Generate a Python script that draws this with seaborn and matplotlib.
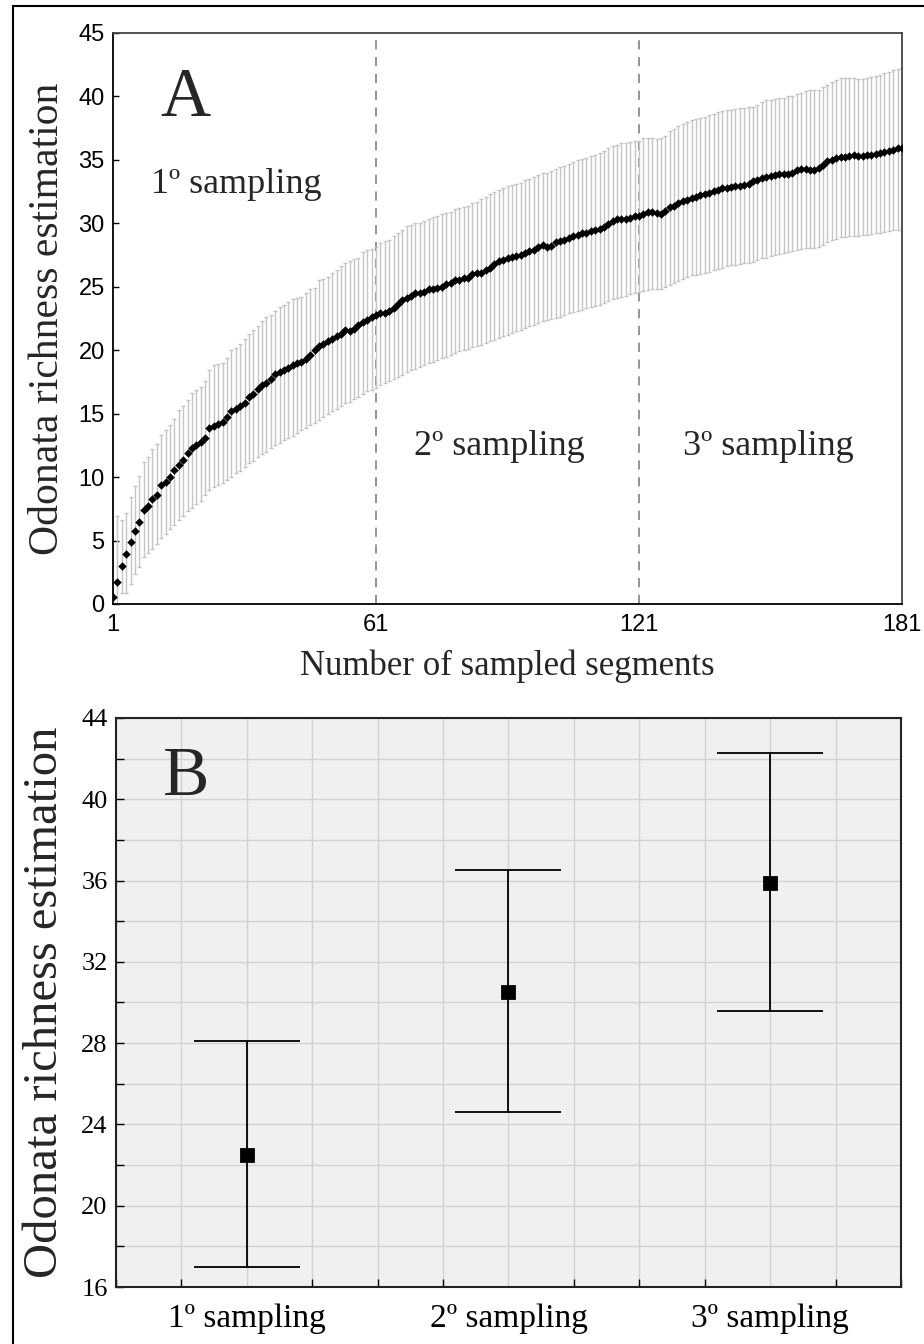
import numpy as np
import pandas as pd
import matplotlib
matplotlib.use("Agg")
import matplotlib.pyplot as plt
from matplotlib.ticker import MultipleLocator, FixedLocator
from matplotlib.patches import Rectangle
import seaborn as sns

# Panel A: accumulation curve, 181 sampled segments
segments = list(range(1, 182))
richness_mean = [
    0.58, 1.75, 3.0, 3.94, 4.86, 5.78, 6.44, 7.41, 7.75, 8.25,
    8.62, 9.36, 9.62, 10.04, 10.57, 10.96, 11.36, 11.88, 12.33, 12.54,
    12.8, 13.07, 13.86, 14.06, 14.2, 14.33, 14.77, 15.17, 15.35, 15.6,
    15.87, 16.3, 16.56, 16.93, 17.24, 17.4, 17.74, 18.1, 18.3, 18.4,
    18.6, 18.8, 19.0, 19.1, 19.3, 19.6, 20.0, 20.3, 20.5, 20.7,
    20.9, 21.1, 21.3, 21.6, 21.5, 21.7, 22.0, 22.2, 22.4, 22.6,
    22.8, 22.95, 22.9, 23.1, 23.35, 23.65, 23.95, 24.15, 24.3, 24.5,
    24.5, 24.6, 24.8, 24.8, 24.9, 25.0, 25.2, 25.3, 25.5, 25.55,
    25.7, 25.7, 26.0, 26.1, 26.05, 26.3, 26.5, 26.8, 27.0, 27.1,
    27.25, 27.35, 27.4, 27.5, 27.65, 27.8, 27.9, 28.1, 28.3, 28.1,
    28.2, 28.5, 28.6, 28.7, 28.85, 29.0, 29.1, 29.2, 29.25, 29.4,
    29.45, 29.55, 29.7, 29.95, 30.15, 30.3, 30.35, 30.35, 30.45, 30.55,
    30.6, 30.75, 30.85, 30.85, 30.8, 30.75, 31.0, 31.3, 31.4, 31.6,
    31.75, 31.85, 32.0, 32.1, 32.2, 32.3, 32.4, 32.55, 32.65, 32.75,
    32.8, 32.85, 32.9, 32.95, 33.05, 33.1, 33.3, 33.4, 33.55, 33.65,
    33.7, 33.8, 33.9, 33.85, 33.9, 34.0, 34.2, 34.3, 34.3, 34.2,
    34.2, 34.35, 34.6, 34.9, 35.0, 35.15, 35.25, 35.25, 35.3, 35.35,
    35.3, 35.3, 35.35, 35.4, 35.45, 35.5, 35.6, 35.7, 35.75, 35.9,
    35.95,
]
richness_upper = [
    0.58, 6.9, 6.6, 7.2, 8.4, 9.3, 10.1, 11.2, 11.6, 12.2,
    12.6, 13.3, 13.7, 14.1, 14.6, 15.3, 15.6, 16.1, 16.6, 16.9,
    17.1, 17.6, 18.4, 18.8, 18.9, 19.0, 19.4, 20.0, 20.2, 20.5,
    20.9, 21.3, 21.6, 21.9, 22.3, 22.6, 22.8, 23.1, 23.4, 23.6,
    23.8, 24.0, 24.1, 24.2, 24.5, 24.8, 24.9, 25.5, 25.6, 25.8,
    26.1, 26.3, 26.6, 26.9, 27.0, 27.2, 27.3, 27.7, 27.9, 28.0,
    28.1, 28.45, 28.6, 28.7, 29.0, 29.2, 29.45, 29.75, 29.9, 30.0,
    30.05, 30.15, 30.3, 30.5, 30.6, 30.7, 30.8, 30.9, 31.1, 31.2,
    31.3, 31.35, 31.6, 31.7, 31.9, 32.05, 32.3, 32.5, 32.65, 32.8,
    32.95, 33.0, 33.1, 33.2, 33.4, 33.5, 33.65, 33.8, 34.0, 34.0,
    34.1, 34.3, 34.45, 34.55, 34.7, 34.8, 34.95, 35.05, 35.15, 35.3,
    35.4, 35.55, 35.7, 35.95, 36.1, 36.2, 36.3, 36.35, 36.4, 36.45,
    36.5, 36.7, 36.7, 36.7, 36.65, 36.7, 36.9, 37.25, 37.45, 37.65,
    37.85, 38.0, 38.1, 38.2, 38.3, 38.4, 38.5, 38.65, 38.75, 38.85,
    38.9, 38.95, 39.0, 39.05, 39.1, 39.2, 39.2, 39.35, 39.55, 39.7,
    39.75, 39.8, 39.9, 39.9, 40.0, 40.05, 40.15, 40.3, 40.4, 40.5,
    40.5, 40.5, 40.7, 40.9, 41.1, 41.3, 41.45, 41.45, 41.45, 41.45,
    41.4, 41.4, 41.45, 41.55, 41.6, 41.7, 41.85, 41.9, 42.05, 42.15,
    42.25,
]
richness_lower = [
    0.58, 0.0, 0.85, 0.85, 1.6, 2.4, 2.9, 3.7, 4.0, 4.3,
    4.7, 5.2, 5.5, 5.9, 6.2, 6.6, 6.9, 7.3, 7.6, 7.9,
    8.15, 8.6, 9.0, 9.25, 9.4, 9.5, 9.8, 10.0, 10.3, 10.5,
    10.8, 11.1, 11.3, 11.6, 11.8, 12.0, 12.3, 12.5, 12.7, 12.9,
    13.1, 13.25, 13.5, 13.7, 13.9, 14.1, 14.3, 14.5, 14.7, 14.95,
    15.2, 15.4, 15.6, 15.8, 15.95, 16.15, 16.35, 16.55, 16.75, 16.9,
    17.05, 17.25, 17.4, 17.55, 17.7, 17.9, 18.05, 18.25, 18.4, 18.55,
    18.7, 18.85, 19.0, 19.1, 19.25, 19.4, 19.5, 19.65, 19.8, 19.9,
    20.0, 20.1, 20.25, 20.3, 20.4, 20.55, 20.7, 20.8, 20.95, 21.1,
    21.2, 21.35, 21.5, 21.6, 21.75, 21.9, 22.0, 22.15, 22.3, 22.35,
    22.45, 22.55, 22.65, 22.8, 22.9, 23.0, 23.1, 23.2, 23.3, 23.4,
    23.5, 23.6, 23.75, 23.9, 24.0, 24.1, 24.2, 24.3, 24.4, 24.5,
    24.55, 24.65, 24.75, 24.8, 24.8, 24.85, 24.95, 25.1, 25.3, 25.45,
    25.6, 25.75, 25.9, 25.95, 26.0, 26.1, 26.2, 26.3, 26.4, 26.5,
    26.6, 26.7, 26.75, 26.8, 26.85, 26.9, 26.95, 27.1, 27.25, 27.3,
    27.4, 27.5, 27.6, 27.65, 27.7, 27.8, 27.9, 28.0, 28.05, 28.05,
    28.05, 28.15, 28.3, 28.5, 28.65, 28.8, 28.9, 28.95, 29.0, 29.0,
    29.0, 29.05, 29.1, 29.15, 29.2, 29.25, 29.3, 29.4, 29.45, 29.5,
    29.6,
]
period_breaks = [61, 121]
xtick_values = [1, 61, 121, 181]

# Panel B: estimate at the end of each sampling period
samplings = ["1º sampling", "2º sampling", "3º sampling"]
period_mean = [22.5, 30.5, 35.9]
period_lower = [17.0, 24.6, 29.6]
period_upper = [28.1, 36.5, 42.3]

sns.set_style("ticks")
plt.rcParams["font.family"] = ["Liberation Serif", "DejaVu Serif"]

fig = plt.figure(figsize=(9.24, 13.44), dpi=100)

# outer frame of the figure (cut at right and bottom)
fig.add_artist(Rectangle((0.0141, -0.1), 1.2, 1.0955, transform=fig.transFigure,
                         fill=False, edgecolor="black", linewidth=1.5, clip_on=False))

# ---------------- Panel A ----------------
axA = fig.add_axes([0.1223, 0.5506, 0.8539, 0.4249])
curve = pd.DataFrame({"segment": segments, "mean": richness_mean,
                      "lower": richness_lower, "upper": richness_upper})

axA.errorbar(curve["segment"], curve["mean"],
             yerr=[curve["mean"] - curve["lower"], curve["upper"] - curve["mean"]],
             fmt="none", ecolor="#c4c4c4", elinewidth=1.0, capsize=1.6, capthick=1.0, zorder=1)
sns.scatterplot(data=curve, x="segment", y="mean", marker="D", color="black",
                s=16, edgecolor="black", linewidth=0.3, ax=axA, zorder=3)

for xb in period_breaks:
    axA.axvline(xb, color="#777777", linestyle=(0, (6, 5)), linewidth=1.1, zorder=0)

axA.set_xlim(1, 181)
axA.set_ylim(0, 45)
axA.set_xticks(xtick_values)
axA.set_yticks(range(0, 46, 5))
axA.tick_params(direction="in", length=4, width=1, colors="black", labelsize=17, pad=6)
for lab in axA.get_xticklabels() + axA.get_yticklabels():
    lab.set_fontfamily(["Liberation Sans", "DejaVu Sans"])
axA.tick_params(axis="x", length=0, pad=7)
for sp in axA.spines.values():
    sp.set_visible(True)
    sp.set_linewidth(1.3)
    sp.set_color("black")
axA.spines["top"].set_color("#444444")
axA.spines["right"].set_color("#444444")

axA.set_xlabel("Number of sampled segments", fontsize=25, labelpad=10)
axA.set_ylabel("Odonata richness estimation", fontsize=30, labelpad=8)

axA.text(0.092, 0.94, "A", transform=axA.transAxes, fontsize=50, ha="center", va="top")
axA.text(0.048, 0.735, "1º sampling", transform=axA.transAxes, fontsize=26, ha="left", va="center")
axA.text(0.49, 0.275, "2º sampling", transform=axA.transAxes, fontsize=26, ha="center", va="center")
axA.text(0.831, 0.275, "3º sampling", transform=axA.transAxes, fontsize=26, ha="center", va="center")

# ---------------- Panel B ----------------
axB = fig.add_axes([0.1255, 0.0424, 0.8496, 0.4234])
axB.set_facecolor("#f0f0f0")
ends = pd.DataFrame({"sampling": samplings, "mean": period_mean,
                     "lower": period_lower, "upper": period_upper})

positions = np.arange(len(samplings))
axB.errorbar(positions, ends["mean"],
             yerr=[ends["mean"] - ends["lower"], ends["upper"] - ends["mean"]],
             fmt="none", ecolor="black", elinewidth=1.3, capsize=38, capthick=1.3, zorder=2)
sns.pointplot(data=ends, x="sampling", y="mean", markers="s", linestyles="none",
              color="black", errorbar=None, markersize=8, ax=axB, zorder=3)

axB.set_xlim(-0.5, 2.5)
axB.set_ylim(16, 44)
axB.xaxis.set_major_locator(FixedLocator(positions))
axB.set_xticklabels(samplings)
axB.xaxis.set_minor_locator(MultipleLocator(0.25))
axB.yaxis.set_major_locator(MultipleLocator(4))
axB.yaxis.set_minor_locator(MultipleLocator(2))
axB.grid(which="both", color="#d2d2d2", linewidth=1.0)
axB.set_axisbelow(True)
axB.tick_params(which="both", direction="in", length=6, width=1, colors="black")
axB.tick_params(axis="y", labelsize=19, pad=6)
axB.tick_params(axis="x", labelsize=24, pad=12, length=0)
axB.tick_params(axis="x", which="minor", length=6)
for sp in axB.spines.values():
    sp.set_visible(True)
    sp.set_linewidth(1.5)
    sp.set_color("#222222")
axB.set_xlabel("")
axB.set_ylabel("Odonata richness estimation", fontsize=35, labelpad=10)

axB.text(0.09, 0.95, "B", transform=axB.transAxes, fontsize=50, ha="center", va="top")

fig.savefig("out.png", dpi=100)
